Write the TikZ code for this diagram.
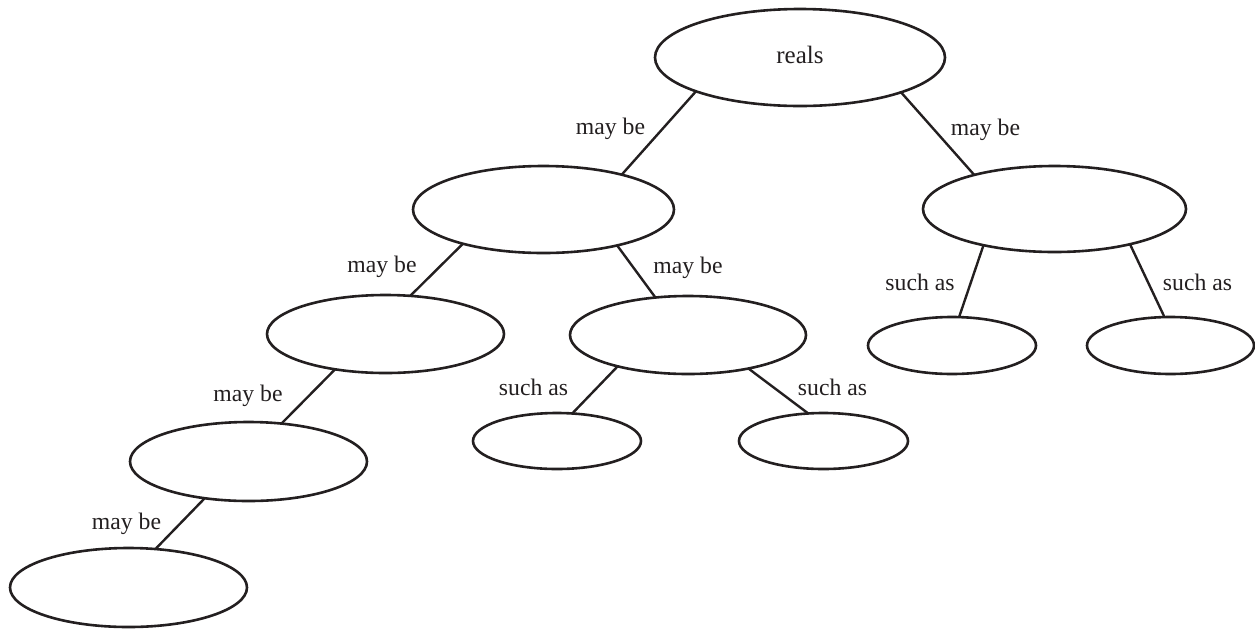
\documentclass[tikz,border=0pt]{standalone}
\usepackage{fontspec}
\setmainfont{Liberation Serif}
\usetikzlibrary{shapes.geometric}
\definecolor{ink}{RGB}{35,31,32}
\begin{document}
\begin{tikzpicture}[x=1pt,y=-1pt,
  oval/.style={ellipse,draw=ink,line width=2.6pt,inner sep=0pt,outer sep=0pt,text=ink},
  link/.style={draw=ink,line width=2.4pt},
  lbl/.style={anchor=base,inner sep=0pt,text=ink,font=\fontsize{23.7}{28}\selectfont}]
\useasboundingbox (0,0) rectangle (1255,630);
\node[oval,minimum width=290pt,minimum height=97pt,font=\fontsize{25}{28}\selectfont,text height=16pt,text depth=5pt] (reals) at (800,57.5) {reals};
\node[oval,minimum width=261pt,minimum height=87pt] (L1) at (543.5,209.5) {};
\node[oval,minimum width=263pt,minimum height=86pt] (R1) at (1054.5,209) {};
\node[oval,minimum width=237pt,minimum height=78pt] (L2) at (385.5,334) {};
\node[oval,minimum width=236pt,minimum height=78pt] (M2) at (688,335) {};
\node[oval,minimum width=168pt,minimum height=57pt] (S1) at (952,345.5) {};
\node[oval,minimum width=167pt,minimum height=57pt] (S2) at (1170.5,345.5) {};
\node[oval,minimum width=237pt,minimum height=79pt] (L3) at (248.5,461.5) {};
\node[oval,minimum width=168pt,minimum height=56pt] (S3) at (557,441) {};
\node[oval,minimum width=169pt,minimum height=56pt] (S4) at (823.5,441) {};
\node[oval,minimum width=237pt,minimum height=79pt] (L4) at (128.5,587.5) {};

\draw[link] (reals.198.5) -- (L1.24.9);
\draw[link] (reals.341.5) -- (R1.157.6);
\draw[link] (L1.203.5) -- (L2.57.2);
\draw[link] (L1.334.5) -- (M2.131.0);
\draw[link] (R1.207.4) -- (S1.76.2);
\draw[link] (R1.335.3) -- (S2.102.8);
\draw[link] (L2.215.5) -- (L3.49.0);
\draw[link] (M2.204.3) -- (S3.61.8);
\draw[link] (M2.331.3) -- (S4.119.0);
\draw[link] (L3.220.0) -- (L4.55.5);

\node[lbl] (t1) at (610.5,134) {may be};
\node[lbl] (t2) at (985.5,135) {may be};
\node[lbl] (t3) at (382,272) {may be};
\node[lbl] (t4) at (688,273) {may be};
\node[lbl] (t5) at (920,290) {such as};
\node[lbl] (t6) at (1197.5,290) {such as};
\node[lbl] (t7) at (248,401) {may be};
\node[lbl] (t8) at (533.5,395) {such as};
\node[lbl] (t9) at (832.5,395) {such as};
\node[lbl] (t10) at (126.5,529) {may be};
\end{tikzpicture}
\end{document}
